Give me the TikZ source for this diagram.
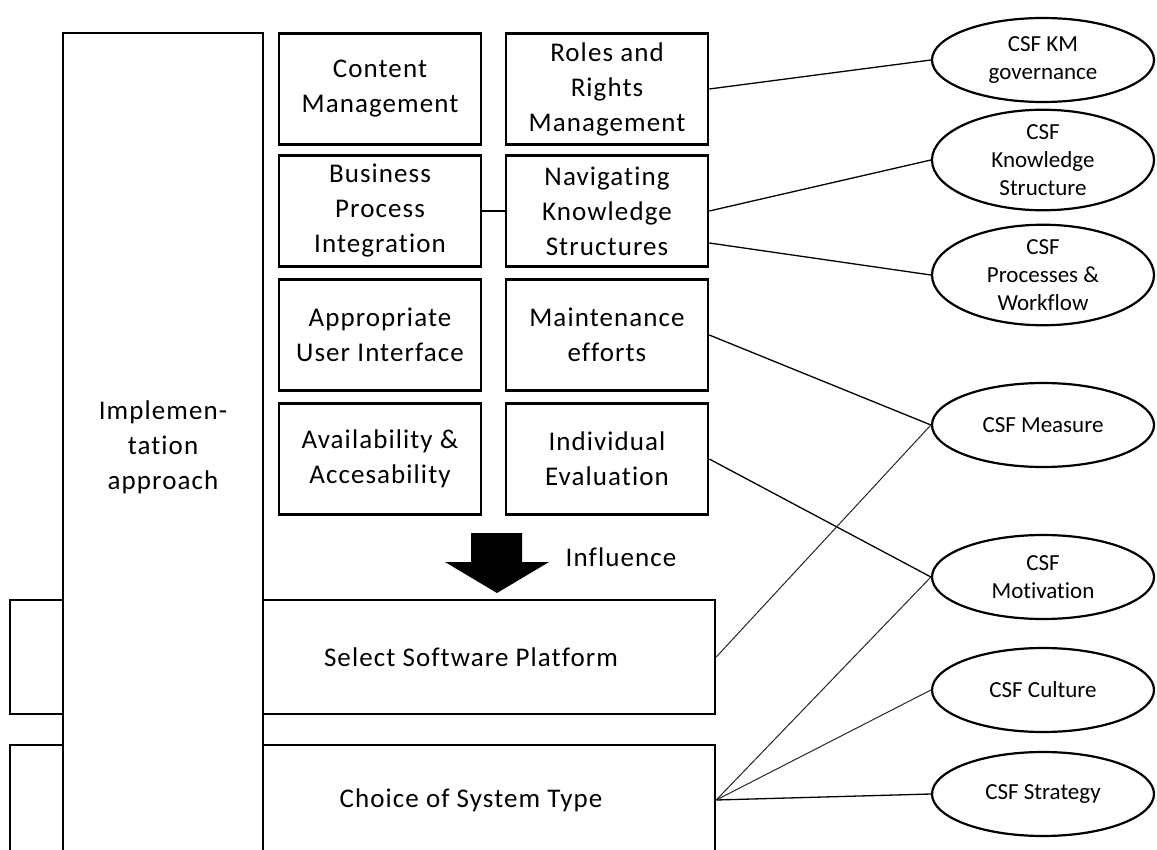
\documentclass[tikz,border=0pt]{standalone}
\usepackage{fontspec}
\setmainfont[Ligatures={NoCommon,NoContextual}]{Carlito}
\newfontfamily\boxfont[LetterSpace=4,Ligatures={NoCommon,NoContextual}]{Carlito}
\usetikzlibrary{shapes.geometric}

\begin{document}
\begin{tikzpicture}[x=1pt,y=-1pt,
  box/.style={draw, line width=2.5pt, fill=white, inner sep=0pt},
  cell/.style={box, minimum width=202pt, minimum height=111pt, align=center,
    font=\boxfont\fontsize{27}{35}\selectfont},
  txt/.style={align=center, inner sep=0pt, font=\boxfont\fontsize{27}{35}\selectfont},
  csf/.style={draw, ellipse, line width=2.2pt, fill=white, minimum width=222pt,
    minimum height=84pt, inner sep=0pt, align=center,
    font=\fontsize{23}{28}\selectfont},
  link/.style={line width=1.3pt},
  thinlink/.style={line width=1pt, black!85},
]
\useasboundingbox (0,0) rectangle (1157,850);
\clip (0,0) rectangle (1157,850);

% lower platform boxes, partly hidden by the approach column
\node[box, minimum width=705pt, minimum height=114pt] (ssp) at (362.5,657) {};
\node[txt] (ssptext) at (471,657) {Select Software Platform};
\node[box, minimum width=705pt, minimum height=110pt] (cst) at (362.5,800) {};
\node[txt] (csttext) at (471,800) {Choice of System Type};

% tall approach column
\node[box, minimum width=200pt, minimum height=867pt] (impl) at (163,466.5) {};
\node[txt] (impltext) at (163,447) {Implemen-\\tation\\approach};

% feature grid
\node[cell] (cm)  at (380,89)  {Content\\Management};
\node[cell] (rrm) at (607,89)  {Roles and\\Rights\\Management};
\node[cell] (bpi) at (380,211) {Business\\Process\\Integration};
\node[cell] (nks) at (607,211) {Navigating\\Knowledge\\Structures};
\node[cell] (aui) at (380,335) {Appropriate\\User Interface};
\node[cell] (mnt) at (607,335) {Maintenance\\efforts};
\node[cell] (ava) at (380,459) {Availability \&\\Accesability};
\node[cell] (ind) at (607,459) {Individual\\Evaluation};

% influence arrow
\fill (471,533) -- (522,533) -- (522,562) -- (549,562) -- (497,593)
  -- (445,562) -- (471,562) -- cycle;
\node[txt] (infl) at (621,557) {Influence};

% critical success factors
\node[csf] (km)  at (1043,60)  {CSF KM\\governance};
\node[csf] (ks)  at (1043,160) {CSF\\Knowledge\\Structure};
\node[csf] (pw)  at (1043,275) {CSF\\Processes \&\\Workflow};
\node[csf] (ms)  at (1043,425) {CSF Measure};
\node[csf] (mot) at (1043,577) {CSF\\Motivation};
\node[csf] (cul) at (1043,690) {CSF Culture};
\node[csf] (str) at (1043,794) {CSF Strategy};

% links
\draw[link] (rrm.east) -- (km.west);
\draw[link] (bpi.east) -- (nks.west);
\draw[link] (nks.east) -- (ks.west);
\draw[link] ([yshift=-32pt]nks.east) -- (pw.west);
\draw[link] (mnt.east) -- (ms.west);
\draw[link] (ind.east) -- (mot.west);
\draw[thinlink] (ssp.east) -- (ms.west);
\draw[thinlink] (cst.east) -- (mot.west);
\draw[thinlink] (cst.east) -- (cul.west);
\draw[link] (cst.east) -- (str.west);
\end{tikzpicture}
\end{document}
